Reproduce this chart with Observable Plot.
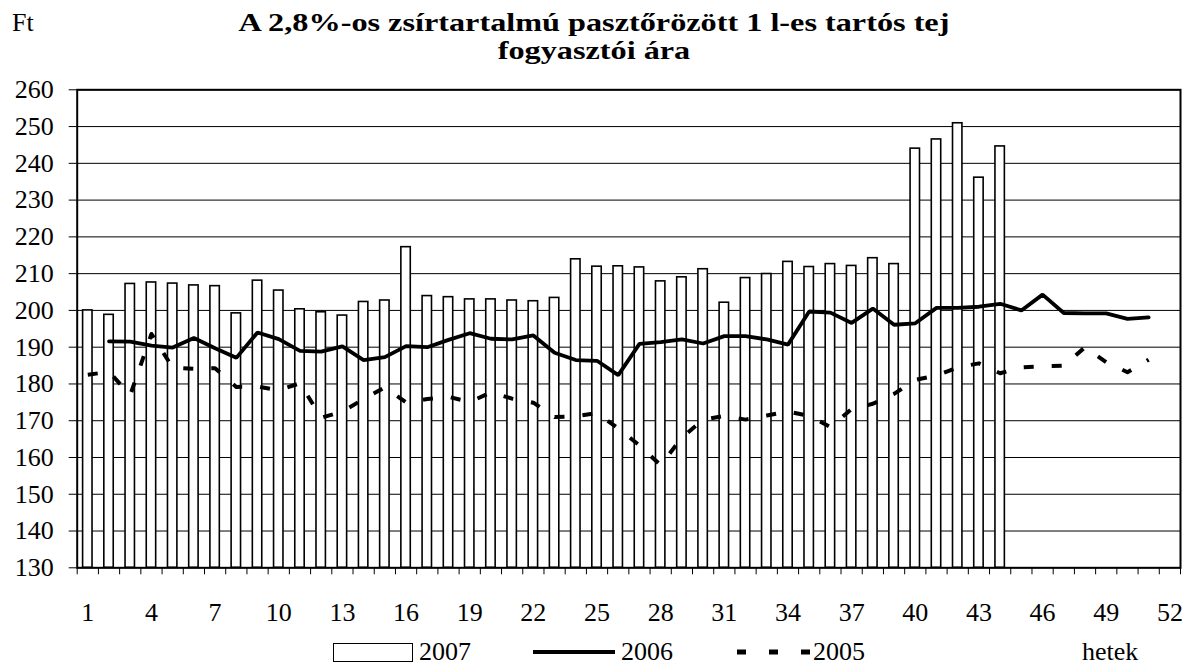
<!DOCTYPE html>
<html><head><meta charset="utf-8">
<script src="https://cdn.jsdelivr.net/npm/d3@7"></script>
<script src="https://cdn.jsdelivr.net/npm/@observablehq/plot@0.6"></script>
<style>
body{margin:0;background:#fff;}
#wrap{position:relative;width:1194px;height:668px;font-family:"Liberation Serif",serif;color:#000;overflow:hidden;background:#fff}
#wrap svg.plot{position:absolute;left:0;top:0}
#wrap svg, #wrap svg text{font-family:"Liberation Serif",serif !important}
.t{position:absolute;white-space:nowrap;font-size:26px;line-height:26px}
.title{position:absolute;left:0;width:1188px;text-align:center;white-space:nowrap;font-size:26px;line-height:26px;font-weight:bold;transform:scaleX(1.24);transform-origin:594px 50%}
</style></head><body><div id="wrap"></div>
<script>
// Weekly consumer price of 2.8% UHT milk (Ft)
const firstWeek2007 = 1;
const values2007 = [200.0, 198.8, 207.2, 207.6, 207.3, 206.8, 206.6, 199.2, 208.1, 205.4,
  200.3, 199.5, 198.6, 202.3, 202.7, 217.2, 203.9, 203.6, 203.0, 203.0,
  202.7, 202.5, 203.4, 213.9, 211.9, 212.0, 211.7, 207.9, 209.0, 211.2,
  202.1, 208.8, 209.9, 213.2, 211.8, 212.6, 212.1, 214.2, 212.6, 244.0,
  246.5, 250.9, 236.1, 244.6];

const firstWeek2006 = 2;
const values2006 = [191.6, 191.5, 190.4, 189.9, 192.5, 189.7, 187.1, 194.0, 192.2,
  189.0, 188.8, 190.2, 186.5, 187.3, 190.3, 190.0, 192.0, 193.8, 192.3,
  192.1, 193.2, 188.5, 186.5, 186.3, 182.4, 190.9, 191.4, 192.1, 191.0,
  193.0, 193.0, 192.1, 190.7, 199.7, 199.4, 196.6, 200.5, 196.1, 196.5,
  200.7, 200.7, 201.0, 201.8, 200.0, 204.3, 199.3, 199.2, 199.2, 197.7,
  198.1];

const firstWeek2005 = 1;
const values2005 = [182.5, 183.3, 177.0, 193.6, 184.4, 184.1, 184.3, 179.2, 179.3, 178.3,
  180.2, 170.8, 172.5, 175.9, 179.1, 175.0, 175.9, 176.5, 175.1, 177.7,
  176.0, 174.9, 171.0, 171.2, 172.1, 167.9, 163.3, 157.9, 165.4, 170.3,
  171.3, 170.3, 171.4, 172.5, 171.3, 168.3, 173.2, 174.6, 177.3, 181.1,
  182.3, 184.5, 185.6, 182.9, 184.5, 184.8, 185.0, 190.0, 185.9, 183.2,
  186.6];

const xTickLabels = [1, 4, 7, 10, 13, 16, 19, 22, 25, 28, 31, 34, 37, 40, 43, 46, 49, 52];
const yTicks = [130, 140, 150, 160, 170, 180, 190, 200, 210, 220, 230, 240, 250, 260];
const weekCount = 52;

const titleLines = ["A 2,8%-os zsírtartalmú pasztőrözött 1 l-es tartós tej", "fogyasztói ára"];
const unitLabel = "Ft";
const axisLabel = "hetek";
const seriesNames = ["2007", "2006", "2005"];

const toData = (first, vals) => vals.map((v, i) => ({week: first + i, value: v}));
const d2007 = toData(firstWeek2007, values2007);
const d2006 = toData(firstWeek2006, values2006);
const d2005 = toData(firstWeek2005, values2005);
const tickBounds = d3.range(0, weekCount + 1).map(i => i + 0.5);
const yMin = yTicks[0], yMax = yTicks[yTicks.length - 1];

const chart = Plot.plot({
  width: 1194, height: 668,
  marginTop: 89.3, marginBottom: 100.7, marginLeft: 76.7, marginRight: 14,
  x: {type: "linear", domain: [0.5, weekCount + 0.5], axis: null},
  y: {domain: [yMin, yMax], axis: null},
  style: {fontFamily: "Liberation Serif", fontSize: "26px", background: "transparent", color: "black"},
  marks: [
    Plot.ruleY(yTicks, {stroke: "#000", strokeWidth: 1}),
    Plot.rectY(d2007, {x1: d => d.week - 0.5, x2: d => d.week + 0.5, y1: yMin, y2: "value",
      insetLeft: 5.9, insetRight: 5.9, fill: "white", stroke: "black", strokeWidth: 1.6}),
    Plot.lineY(d2006, {x: "week", y: "value", stroke: "black", strokeWidth: 3.8, strokeLinejoin: "miter"}),
    Plot.lineY(d2005, {x: "week", y: "value", stroke: "black", strokeWidth: 4, strokeDasharray: "10,18", strokeLinecap: "butt"}),
    Plot.frame({stroke: "black", strokeWidth: 2}),
    Plot.axisY(yTicks, {tickSize: 8, tickPadding: 15.5, label: null, fontSize: 26, tickFormat: d => String(d)}),
    Plot.axisX(tickBounds, {tickSize: 7, tickFormat: () => "", label: null}),
    Plot.axisX(xTickLabels, {tickSize: 0, tickPadding: 35, label: null, fontSize: 26, tickFormat: d => String(d)})
  ]
});
chart.classList.add("plot");
const wrap = document.getElementById("wrap");
wrap.appendChild(chart);

function addText(cls, txt, left, top) {
  const el = document.createElement("div");
  el.className = cls;
  el.textContent = txt;
  if (left !== null) el.style.left = left + "px";
  el.style.top = top + "px";
  wrap.appendChild(el);
  return el;
}
addText("t", unitLabel, 12, 10);
addText("title", titleLines[0], null, 10.2);
addText("title", titleLines[1], null, 38.2);

// legend
const legend = document.createElement("div");
legend.style.cssText = "position:absolute;left:0;top:0;width:1194px;height:668px;pointer-events:none";
legend.innerHTML = `
<div style="position:absolute;left:333px;top:643px;width:80px;height:19px;border:1.6px solid #000;box-sizing:border-box;background:#fff"></div>
<svg style="position:absolute;left:0;top:0" width="1194" height="668">
  <line x1="533" x2="615" y1="652" y2="652" stroke="#000" stroke-width="4"/>
  <line x1="737" x2="811" y1="652" y2="652" stroke="#000" stroke-width="5" stroke-dasharray="9,23"/>
</svg>`;
wrap.appendChild(legend);
addText("t", seriesNames[0], 419, 639);
addText("t", seriesNames[1], 621, 639);
addText("t", seriesNames[2], 813, 639);
addText("t", axisLabel, 1082, 639);
</script></body></html>
